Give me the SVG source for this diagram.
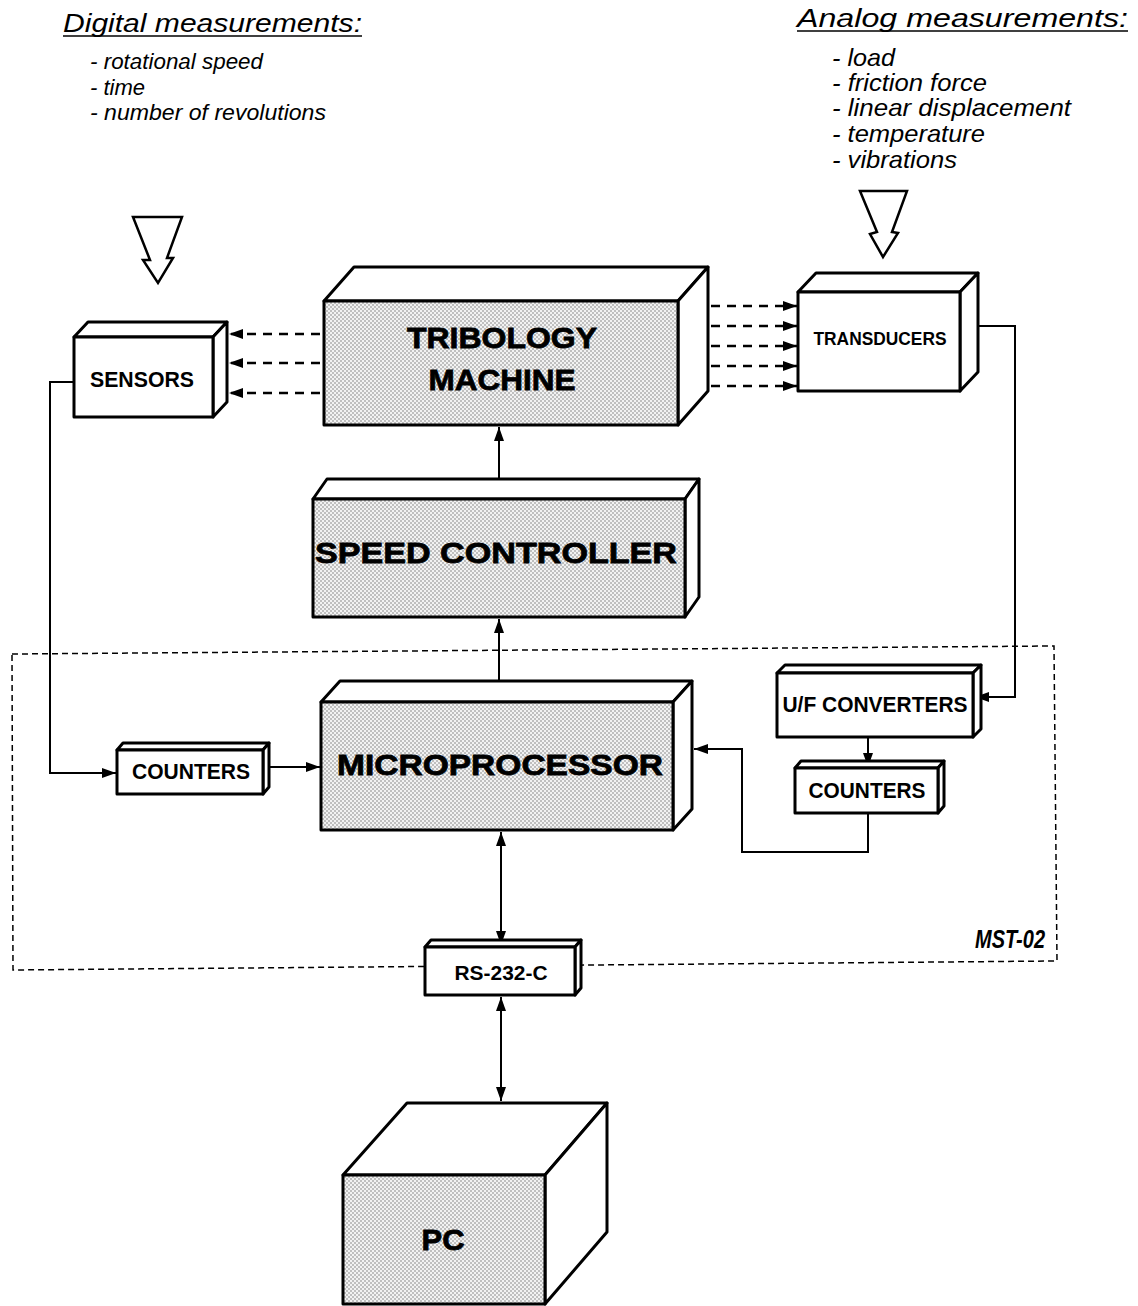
<svg xmlns="http://www.w3.org/2000/svg" width="1138" height="1306" viewBox="0 0 1138 1306">
<style>
.box{stroke:#000;stroke-width:3;stroke-linejoin:round;fill:#fff}
.shade{stroke:#000;stroke-width:3;stroke-linejoin:round;fill:url(#dots)}
.lbl{font-family:"Liberation Sans",Arial,sans-serif;font-weight:bold;text-anchor:middle;fill:#000}
.big{stroke:#000;stroke-width:0.8}
.hdr{font-family:"Liberation Sans",Arial,sans-serif;font-style:italic;font-size:25px;fill:#000}
.item{font-family:"Liberation Sans",Arial,sans-serif;font-style:italic;font-size:22px;fill:#000}
.ritem{font-family:"Liberation Sans",Arial,sans-serif;font-style:italic;font-size:24px;fill:#000}
.ln{stroke:#000;stroke-width:2;fill:none}
.dash{stroke:#000;stroke-width:2.5;fill:none;stroke-dasharray:9 7}
.hollow{stroke:#000;stroke-width:2.5;fill:#fff;stroke-linejoin:miter}
</style>
<defs>
<pattern id="dots" width="4" height="4" patternUnits="userSpaceOnUse">
<rect width="4" height="4" fill="#f2f2f2"/>
<circle cx="1" cy="1" r="0.7" fill="#666"/>
<circle cx="3" cy="3" r="0.7" fill="#666"/>
</pattern>
<marker id="ah" viewBox="0 0 14 10" refX="14" refY="5" markerWidth="14" markerHeight="10" markerUnits="userSpaceOnUse" orient="auto-start-reverse">
<path d="M0,0 L14,5 L0,10 Z" fill="#000"/>
</marker>
</defs>
<rect width="1138" height="1306" fill="#fff"/>

<g id="digital-label">
<text class="hdr" x="63" y="32" textLength="299" lengthAdjust="spacingAndGlyphs">Digital measurements:</text>
<line x1="63" y1="36" x2="362" y2="36" stroke="#000" stroke-width="1.5"/>
<text class="item" x="90" y="69" textLength="173" lengthAdjust="spacingAndGlyphs">- rotational speed</text>
<text class="item" x="90" y="95">- time</text>
<text class="item" x="90" y="120" textLength="236" lengthAdjust="spacingAndGlyphs">- number of revolutions</text>
</g>
<g id="analog-label">
<text class="hdr" x="797" y="27" textLength="331" lengthAdjust="spacingAndGlyphs">Analog measurements:</text>
<line x1="797" y1="31" x2="1128" y2="31" stroke="#000" stroke-width="1.5"/>
<text class="ritem" x="832" y="66" textLength="63" lengthAdjust="spacingAndGlyphs">- load</text>
<text class="ritem" x="832" y="91" textLength="155" lengthAdjust="spacingAndGlyphs">- friction force</text>
<text class="ritem" x="832" y="116" textLength="239" lengthAdjust="spacingAndGlyphs">- linear displacement</text>
<text class="ritem" x="832" y="142" textLength="153" lengthAdjust="spacingAndGlyphs">- temperature</text>
<text class="ritem" x="832" y="168" textLength="125" lengthAdjust="spacingAndGlyphs">- vibrations</text>
</g>
<g id="hollow-arrows">
<polygon class="hollow" points="133,217 182,217 167,258 173,258 158,283 143,260 150,260"/>
<polygon class="hollow" points="860,191 907,191 892,232 898,233 883,257 870,234 877,232"/>
</g>

<g id="mst02-boundary">
<path d="M12,654 L1054,646 L1057,961 L13,970 Z" fill="none" stroke="#000" stroke-width="1.5" stroke-dasharray="6 4"/>
<text x="975" y="948" font-family="Liberation Sans,Arial,sans-serif" font-style="italic" font-weight="bold" font-size="26" textLength="70" lengthAdjust="spacingAndGlyphs">MST-02</text>
</g>

<g id="connectors">
<line class="dash" x1="320" y1="334" x2="229" y2="334" marker-end="url(#ah)"/>
<line class="dash" x1="320" y1="363" x2="229" y2="363" marker-end="url(#ah)"/>
<line class="dash" x1="320" y1="393" x2="229" y2="393" marker-end="url(#ah)"/>
<line class="dash" x1="711" y1="306" x2="797" y2="306" marker-end="url(#ah)"/>
<line class="dash" x1="711" y1="326" x2="797" y2="326" marker-end="url(#ah)"/>
<line class="dash" x1="711" y1="346" x2="797" y2="346" marker-end="url(#ah)"/>
<line class="dash" x1="711" y1="366" x2="797" y2="366" marker-end="url(#ah)"/>
<line class="dash" x1="711" y1="386" x2="797" y2="386" marker-end="url(#ah)"/>
<polyline class="ln" points="978,326 1015,326 1015,697 975,697" marker-end="url(#ah)"/>
<polyline class="ln" points="74,382 50,382 50,773 116,773" marker-end="url(#ah)"/>
<line class="ln" x1="269" y1="767" x2="320" y2="767" marker-end="url(#ah)"/>
<line class="ln" x1="499" y1="681" x2="499" y2="619" marker-end="url(#ah)"/>
<line class="ln" x1="499" y1="479" x2="499" y2="427" marker-end="url(#ah)"/>
<line class="ln" x1="868" y1="737" x2="868" y2="767" marker-end="url(#ah)"/>
<polyline class="ln" points="868,813 868,852 742,852 742,749 694,749" marker-end="url(#ah)"/>
<line class="ln" x1="501" y1="832" x2="501" y2="945" marker-start="url(#ah)" marker-end="url(#ah)"/>
<line class="ln" x1="501" y1="997" x2="501" y2="1101" marker-start="url(#ah)" marker-end="url(#ah)"/>
</g>

<g id="sensors">
<polygon class="box" points="74,337 88,322 227,322 213,337"/>
<polygon class="box" points="213,337 227,322 227,402 213,417"/>
<rect class="box" x="74" y="337" width="139" height="80"/>
<text class="lbl" x="142" y="387" font-size="22" textLength="104" lengthAdjust="spacingAndGlyphs">SENSORS</text>
</g>
<g id="tribology-machine">
<polygon class="box" points="324,301 354,267 708,267 678,301"/>
<polygon class="box" points="678,301 708,267 708,391 678,425"/>
<rect class="shade" x="324" y="301" width="354" height="124"/>
<text class="lbl big" x="502" y="348" font-size="30" textLength="190" lengthAdjust="spacingAndGlyphs">TRIBOLOGY</text>
<text class="lbl big" x="502" y="390" font-size="30" textLength="147" lengthAdjust="spacingAndGlyphs">MACHINE</text>
</g>
<g id="transducers">
<polygon class="box" points="798,292 816,273 978,273 960,292"/>
<polygon class="box" points="960,292 978,273 978,372 960,391"/>
<rect class="box" x="798" y="292" width="162" height="99"/>
<text class="lbl" x="880" y="345" font-size="19" textLength="133" lengthAdjust="spacingAndGlyphs">TRANSDUCERS</text>
</g>
<g id="speed-controller">
<polygon class="box" points="313,499 327,479 699,479 685,499"/>
<polygon class="box" points="685,499 699,479 699,597 685,617"/>
<rect class="shade" x="313" y="499" width="372" height="118"/>
<text class="lbl big" x="496" y="563" font-size="30" textLength="362" lengthAdjust="spacingAndGlyphs">SPEED CONTROLLER</text>
</g>
<g id="microprocessor">
<polygon class="box" points="321,702 340,681 692,681 673,702"/>
<polygon class="box" points="673,702 692,681 692,809 673,830"/>
<rect class="shade" x="321" y="702" width="352" height="128"/>
<text class="lbl big" x="500" y="775" font-size="30" textLength="326" lengthAdjust="spacingAndGlyphs">MICROPROCESSOR</text>
</g>
<g id="counters-left">
<polygon class="box" points="117,750 123,743 269,743 263,750"/>
<polygon class="box" points="263,750 269,743 269,787 263,794"/>
<rect class="box" x="117" y="750" width="146" height="44"/>
<text class="lbl" x="191" y="779" font-size="22" textLength="118" lengthAdjust="spacingAndGlyphs">COUNTERS</text>
</g>
<g id="uf-converters">
<polygon class="box" points="777,673 785,665 981,665 973,673"/>
<polygon class="box" points="973,673 981,665 981,729 973,737"/>
<rect class="box" x="777" y="673" width="196" height="64"/>
<text class="lbl" x="875" y="712" font-size="22" textLength="185" lengthAdjust="spacingAndGlyphs">U/F CONVERTERS</text>
</g>
<g id="counters-right">
<polygon class="box" points="795,768 801,761 944,761 938,768"/>
<polygon class="box" points="938,768 944,761 944,806 938,813"/>
<rect class="box" x="795" y="768" width="143" height="45"/>
<text class="lbl" x="867" y="798" font-size="22" textLength="117" lengthAdjust="spacingAndGlyphs">COUNTERS</text>
</g>
<g id="rs232c">
<polygon class="box" points="425,947 431,940 581,940 575,947"/>
<polygon class="box" points="575,947 581,940 581,988 575,995"/>
<rect class="box" x="425" y="947" width="150" height="48"/>
<text class="lbl" x="501" y="980" font-size="20" textLength="93" lengthAdjust="spacingAndGlyphs">RS-232-C</text>
</g>
<g id="pc">
<polygon class="box" points="343,1175 407,1103 607,1103 545,1175"/>
<polygon class="box" points="545,1175 607,1103 607,1232 545,1304"/>
<rect class="shade" x="343" y="1175" width="202" height="129"/>
<text class="lbl big" x="443" y="1250" font-size="30" textLength="43" lengthAdjust="spacingAndGlyphs">PC</text>
</g>
</svg>
